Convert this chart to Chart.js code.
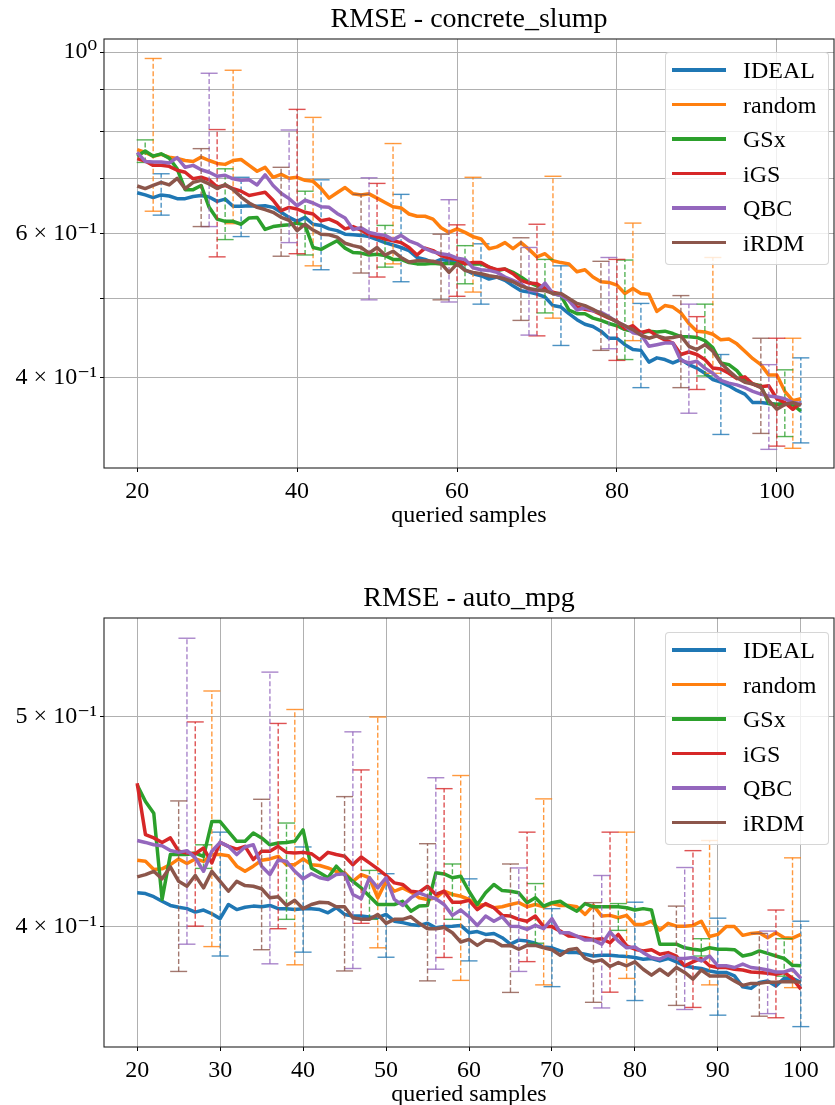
<!DOCTYPE html>
<html>
<head>
<meta charset="utf-8">
<title>RMSE curves</title>
<script src="https://cdn.jsdelivr.net/npm/chart.js@4.4.1/dist/chart.umd.min.js"></script>
<style>
  html, body { margin: 0; padding: 0; background: #fff; overflow: hidden; }
  .panel { position: absolute; left: 0; width: 835px; height: 530px; }
  .legend {
    position: absolute; left: 665px; width: 164px; height: 213px; box-sizing: border-box;
    background: rgba(255, 255, 255, 0.8); border: 1px solid rgba(204, 204, 204, 0.8); border-radius: 4px;
  }
  .legend .row { position: absolute; left: 0; right: 0; height: 30px; }
  .legend .swatch { position: absolute; left: 6px; top: 13px; width: 54px; height: 3.5px; }
  .legend .label {
    position: absolute; left: 77px; top: 0; line-height: 30px; white-space: nowrap;
    font-family: 'Liberation Serif', 'DejaVu Serif', serif; font-size: 24px; color: #000;
  }
</style>
</head>
<body>
<div class="panel" style="top:0px">
  <canvas id="chart-slump" width="835" height="530"></canvas>
  <div class="legend" id="legend-slump" style="top:52px"></div>
</div>
<div class="panel" style="top:579px">
  <canvas id="chart-mpg" width="835" height="530"></canvas>
  <div class="legend" id="legend-mpg" style="top:53px"></div>
</div>
<script>
// series shared by both panels
const seriesNames = ['IDEAL', 'random', 'GSx', 'iGS', 'QBC', 'iRDM'];
const seriesColors = ['#1f77b4', '#ff7f0e', '#2ca02c', '#d62728', '#9467bd', '#8c564b'];
const errorColors = ['rgba(31,119,180,0.8)', 'rgba(255,127,14,0.8)', 'rgba(44,160,44,0.8)',
  'rgba(214,39,40,0.8)', 'rgba(148,103,189,0.8)', 'rgba(140,86,75,0.8)'];

// ---- concrete_slump ----
const slumpSamples = [20, 21, 22, 23, 24, 25, 26, 27, 28, 29, 30, 31, 32, 33, 34, 35, 36, 37, 38, 39,
  40, 41, 42, 43, 44, 45, 46, 47, 48, 49, 50, 51, 52, 53, 54, 55, 56, 57, 58, 59,
  60, 61, 62, 63, 64, 65, 66, 67, 68, 69, 70, 71, 72, 73, 74, 75, 76, 77, 78, 79,
  80, 81, 82, 83, 84, 85, 86, 87, 88, 89, 90, 91, 92, 93, 94, 95, 96, 97, 98, 99,
  100, 101, 102, 103];
const slumpIdeal = [0.673, 0.669, 0.664, 0.669, 0.667, 0.662, 0.662, 0.666, 0.668, 0.665,
  0.657, 0.661, 0.648, 0.648, 0.649, 0.648, 0.649, 0.646, 0.637, 0.628,
  0.621, 0.628, 0.616, 0.614, 0.608, 0.605, 0.599, 0.598, 0.597, 0.595,
  0.590, 0.585, 0.581, 0.577, 0.572, 0.561, 0.558, 0.553, 0.558, 0.556,
  0.553, 0.542, 0.536, 0.533, 0.528, 0.531, 0.526, 0.518, 0.511, 0.509,
  0.506, 0.502, 0.490, 0.488, 0.479, 0.471, 0.465, 0.462, 0.456, 0.447,
  0.447, 0.439, 0.433, 0.432, 0.418, 0.423, 0.421, 0.417, 0.421, 0.415,
  0.411, 0.405, 0.398, 0.395, 0.391, 0.386, 0.382, 0.373, 0.373, 0.372,
  0.371, 0.372, 0.370, 0.372];
const slumpRandom = [0.760, 0.754, 0.746, 0.750, 0.744, 0.741, 0.737, 0.735, 0.744, 0.737,
  0.731, 0.729, 0.737, 0.739, 0.727, 0.715, 0.723, 0.703, 0.709, 0.701,
  0.703, 0.697, 0.695, 0.681, 0.663, 0.673, 0.683, 0.671, 0.669, 0.671,
  0.663, 0.655, 0.647, 0.645, 0.634, 0.630, 0.630, 0.625, 0.610, 0.602,
  0.608, 0.602, 0.595, 0.591, 0.575, 0.578, 0.585, 0.575, 0.585, 0.574,
  0.562, 0.567, 0.556, 0.553, 0.551, 0.539, 0.542, 0.531, 0.524, 0.523,
  0.519, 0.507, 0.514, 0.507, 0.506, 0.482, 0.490, 0.488, 0.480, 0.466,
  0.456, 0.455, 0.452, 0.445, 0.446, 0.440, 0.431, 0.422, 0.415, 0.403,
  0.403, 0.385, 0.375, 0.377];
const slumpGSx = [0.746, 0.757, 0.746, 0.751, 0.742, 0.720, 0.679, 0.679, 0.687, 0.646,
  0.625, 0.621, 0.621, 0.616, 0.627, 0.628, 0.607, 0.612, 0.614, 0.615,
  0.618, 0.614, 0.577, 0.574, 0.581, 0.588, 0.576, 0.569, 0.568, 0.565,
  0.566, 0.564, 0.558, 0.558, 0.553, 0.551, 0.551, 0.552, 0.551, 0.552,
  0.551, 0.552, 0.551, 0.551, 0.546, 0.541, 0.543, 0.538, 0.531, 0.523,
  0.518, 0.514, 0.507, 0.504, 0.484, 0.479, 0.479, 0.473, 0.470, 0.466,
  0.463, 0.458, 0.456, 0.454, 0.456, 0.455, 0.456, 0.453, 0.449, 0.449,
  0.448, 0.444, 0.435, 0.417, 0.415, 0.408, 0.397, 0.393, 0.391, 0.372,
  0.371, 0.372, 0.371, 0.364];
const slumpIGS = [0.741, 0.736, 0.727, 0.727, 0.725, 0.717, 0.713, 0.700, 0.703, 0.698,
  0.684, 0.687, 0.681, 0.676, 0.668, 0.671, 0.674, 0.659, 0.640, 0.646,
  0.643, 0.637, 0.634, 0.622, 0.625, 0.619, 0.608, 0.612, 0.606, 0.598,
  0.595, 0.591, 0.588, 0.585, 0.577, 0.565, 0.576, 0.572, 0.564, 0.560,
  0.558, 0.551, 0.553, 0.553, 0.546, 0.542, 0.543, 0.536, 0.526, 0.522,
  0.521, 0.514, 0.509, 0.506, 0.498, 0.488, 0.485, 0.483, 0.478, 0.473,
  0.469, 0.459, 0.463, 0.454, 0.457, 0.450, 0.445, 0.441, 0.427, 0.430,
  0.427, 0.421, 0.411, 0.410, 0.405, 0.399, 0.401, 0.393, 0.390, 0.391,
  0.377, 0.373, 0.366, 0.373];
const slumpQBC = [0.754, 0.735, 0.734, 0.734, 0.732, 0.743, 0.723, 0.727, 0.718, 0.713,
  0.705, 0.707, 0.700, 0.697, 0.698, 0.688, 0.708, 0.687, 0.672, 0.662,
  0.649, 0.659, 0.654, 0.647, 0.646, 0.635, 0.627, 0.607, 0.610, 0.602,
  0.599, 0.597, 0.590, 0.597, 0.588, 0.583, 0.575, 0.570, 0.567, 0.565,
  0.560, 0.558, 0.545, 0.542, 0.541, 0.538, 0.531, 0.526, 0.521, 0.512,
  0.510, 0.522, 0.507, 0.504, 0.497, 0.484, 0.487, 0.483, 0.481, 0.475,
  0.468, 0.463, 0.454, 0.452, 0.437, 0.439, 0.441, 0.441, 0.420, 0.417,
  0.419, 0.411, 0.405, 0.397, 0.394, 0.392, 0.389, 0.385, 0.382, 0.380,
  0.379, 0.377, 0.373, 0.372];
const slumpIRDM = [0.686, 0.681, 0.687, 0.693, 0.688, 0.701, 0.681, 0.693, 0.697, 0.690,
  0.681, 0.689, 0.679, 0.665, 0.654, 0.646, 0.642, 0.637, 0.628, 0.623,
  0.605, 0.616, 0.606, 0.599, 0.598, 0.594, 0.584, 0.580, 0.577, 0.568,
  0.577, 0.565, 0.571, 0.561, 0.554, 0.556, 0.556, 0.555, 0.552, 0.538,
  0.551, 0.541, 0.538, 0.536, 0.533, 0.531, 0.528, 0.524, 0.518, 0.514,
  0.512, 0.511, 0.507, 0.507, 0.500, 0.493, 0.490, 0.485, 0.479, 0.474,
  0.468, 0.463, 0.458, 0.451, 0.447, 0.450, 0.447, 0.448, 0.450, 0.437,
  0.433, 0.439, 0.431, 0.417, 0.408, 0.400, 0.395, 0.393, 0.389, 0.375,
  0.366, 0.371, 0.373, 0.370];
// error bars: sample positions, lower and upper ends, one list per series
const slumpErrAt = [
  [23, 33, 43, 53, 63, 73, 83, 93, 103],
  [22, 32, 42, 52, 62, 72, 82, 92, 102],
  [21, 31, 41, 51, 61, 71, 81, 91, 101],
  [30, 40, 50, 60, 70, 80, 90, 100],
  [29, 39, 49, 59, 69, 79, 89, 99],
  [28, 38, 48, 58, 68, 78, 88, 98]
];
const slumpErrLow = [
  [0.632, 0.595, 0.542, 0.524, 0.492, 0.438, 0.389, 0.341, 0.333],
  [0.639, 0.617, 0.548, 0.551, 0.509, 0.473, 0.444, 0.405, 0.328],
  [0.733, 0.590, 0.565, 0.546, 0.521, 0.480, 0.421, 0.402, 0.339],
  [0.562, 0.567, 0.531, 0.503, 0.450, 0.420, 0.387, 0.330],
  [0.612, 0.585, 0.498, 0.495, 0.451, 0.434, 0.362, 0.327],
  [0.612, 0.563, 0.537, 0.498, 0.470, 0.432, 0.389, 0.342]
];
const slumpErrHigh = [
  [0.710, 0.703, 0.698, 0.670, 0.583, 0.548, 0.493, 0.427, 0.423],
  [0.982, 0.950, 0.832, 0.773, 0.703, 0.705, 0.618, 0.561, 0.447],
  [0.781, 0.720, 0.676, 0.614, 0.580, 0.558, 0.557, 0.492, 0.409],
  [0.804, 0.851, 0.691, 0.615, 0.616, 0.558, 0.475, 0.447],
  [0.942, 0.803, 0.702, 0.660, 0.577, 0.561, 0.492, 0.415],
  [0.762, 0.723, 0.670, 0.599, 0.593, 0.555, 0.504, 0.447]
];
const slumpXTicks = [20, 40, 60, 80, 100];
const slumpYTicks = [0.4, 0.5, 0.6, 0.7, 0.8, 0.9, 1.0];
const slumpYLabels = ['4 × 10⁻¹', '', '6 × 10⁻¹', '', '', '', '10⁰'];

// ---- auto_mpg ----
const mpgSamples = [20, 21, 22, 23, 24, 25, 26, 27, 28, 29, 30, 31, 32, 33, 34, 35, 36, 37, 38, 39,
  40, 41, 42, 43, 44, 45, 46, 47, 48, 49, 50, 51, 52, 53, 54, 55, 56, 57, 58, 59,
  60, 61, 62, 63, 64, 65, 66, 67, 68, 69, 70, 71, 72, 73, 74, 75, 76, 77, 78, 79,
  80, 81, 82, 83, 84, 85, 86, 87, 88, 89, 90, 91, 92, 93, 94, 95, 96, 97, 98, 99,
  100];
const mpgIdeal = [0.4145, 0.4142, 0.4128, 0.4108, 0.4090, 0.4082, 0.4076, 0.4061, 0.4070, 0.4054,
  0.4033, 0.4094, 0.4072, 0.4082, 0.4087, 0.4084, 0.4090, 0.4076, 0.4076, 0.4072,
  0.4076, 0.4076, 0.4072, 0.4058, 0.4080, 0.4051, 0.4044, 0.4044, 0.4040, 0.4037,
  0.4051, 0.4022, 0.4016, 0.4008, 0.4004, 0.4013, 0.3994, 0.3999, 0.4001, 0.4004,
  0.3973, 0.3978, 0.3966, 0.3970, 0.3952, 0.3925, 0.3942, 0.3938, 0.3929, 0.3913,
  0.3910, 0.3897, 0.3890, 0.3890, 0.3883, 0.3876, 0.3879, 0.3879, 0.3876, 0.3874,
  0.3870, 0.3863, 0.3866, 0.3856, 0.3866, 0.3852, 0.3836, 0.3829, 0.3825, 0.3815,
  0.3809, 0.3809, 0.3795, 0.3751, 0.3745, 0.3769, 0.3775, 0.3755, 0.3785, 0.3785,
  0.3769];
const mpgRandom = [0.4291, 0.4286, 0.4249, 0.4252, 0.4271, 0.4297, 0.4276, 0.4297, 0.4286, 0.4317,
  0.4317, 0.4312, 0.4264, 0.4241, 0.4264, 0.4291, 0.4297, 0.4309, 0.4271, 0.4271,
  0.4297, 0.4271, 0.4267, 0.4256, 0.4241, 0.4234, 0.4196, 0.4226, 0.4212, 0.4123,
  0.4196, 0.4152, 0.4167, 0.4148, 0.4123, 0.4116, 0.4123, 0.4152, 0.4138, 0.4130,
  0.4116, 0.4090, 0.4094, 0.4080, 0.4084, 0.4094, 0.4102, 0.4084, 0.4094, 0.4084,
  0.4098, 0.4090, 0.4090, 0.4084, 0.4051, 0.4090, 0.4044, 0.4047, 0.4037, 0.4047,
  0.4008, 0.4008, 0.4022, 0.3984, 0.4013, 0.4001, 0.4001, 0.4004, 0.4022, 0.3957,
  0.3966, 0.3999, 0.3999, 0.3962, 0.3970, 0.3973, 0.3952, 0.3973, 0.3952, 0.3950,
  0.3966];
const mpgGSx = [0.4648, 0.4567, 0.4511, 0.4116, 0.4317, 0.4317, 0.4317, 0.4324, 0.4309, 0.4471,
  0.4471, 0.4424, 0.4378, 0.4378, 0.4417, 0.4394, 0.4362, 0.4370, 0.4373, 0.4378,
  0.4432, 0.4256, 0.4234, 0.4212, 0.4264, 0.4226, 0.4196, 0.4167, 0.4130, 0.4094,
  0.4094, 0.4094, 0.4108, 0.4065, 0.4087, 0.4090, 0.4234, 0.4229, 0.4212, 0.4219,
  0.4152, 0.4094, 0.4145, 0.4182, 0.4155, 0.4152, 0.4145, 0.4102, 0.4123, 0.4087,
  0.4102, 0.4108, 0.4084, 0.4065, 0.4098, 0.4084, 0.4084, 0.4084, 0.4084, 0.4080,
  0.4070, 0.4076, 0.4070, 0.3925, 0.3925, 0.3925, 0.3910, 0.3904, 0.3900, 0.3910,
  0.3904, 0.3904, 0.3902, 0.3876, 0.3883, 0.3897, 0.3887, 0.3876, 0.3866, 0.3838,
  0.3836];
const mpgIGS = [0.4657, 0.4409, 0.4394, 0.4373, 0.4394, 0.4332, 0.4324, 0.4321, 0.4347, 0.4279,
  0.4373, 0.4355, 0.4342, 0.4355, 0.4294, 0.4332, 0.4332, 0.4355, 0.4327, 0.4324,
  0.4327, 0.4321, 0.4294, 0.4327, 0.4317, 0.4309, 0.4271, 0.4306, 0.4279, 0.4252,
  0.4222, 0.4189, 0.4182, 0.4152, 0.4148, 0.4174, 0.4138, 0.4152, 0.4104, 0.4104,
  0.4112, 0.4072, 0.4098, 0.4080, 0.4047, 0.4044, 0.4030, 0.4022, 0.4044, 0.3999,
  0.3999, 0.3980, 0.3959, 0.3957, 0.3952, 0.3945, 0.3948, 0.3931, 0.3966, 0.3918,
  0.3904, 0.3897, 0.3902, 0.3883, 0.3890, 0.3876, 0.3836, 0.3852, 0.3866, 0.3836,
  0.3829, 0.3829, 0.3822, 0.3819, 0.3811, 0.3809, 0.3806, 0.3802, 0.3809, 0.3785,
  0.3742];
const mpgQBC = [0.4382, 0.4373, 0.4362, 0.4358, 0.4336, 0.4327, 0.4335, 0.4302, 0.4241, 0.4332,
  0.4373, 0.4355, 0.4317, 0.4352, 0.4362, 0.4264, 0.4226, 0.4291, 0.4286, 0.4241,
  0.4207, 0.4230, 0.4212, 0.4204, 0.4226, 0.4230, 0.4138, 0.4119, 0.4212, 0.4167,
  0.4212, 0.4116, 0.4090, 0.4123, 0.4145, 0.4130, 0.4119, 0.4094, 0.4047, 0.4070,
  0.4041, 0.4004, 0.4044, 0.4022, 0.4041, 0.4001, 0.3999, 0.3987, 0.4004, 0.3990,
  0.4033, 0.3973, 0.3973, 0.3959, 0.3942, 0.3942, 0.3925, 0.3976, 0.3938, 0.3910,
  0.3913, 0.3890, 0.3870, 0.3863, 0.3879, 0.3866, 0.3866, 0.3870, 0.3856, 0.3876,
  0.3836, 0.3836, 0.3829, 0.3843, 0.3829, 0.3825, 0.3819, 0.3811, 0.3811, 0.3822,
  0.3785];
const mpgIRDM = [0.4216, 0.4226, 0.4241, 0.4207, 0.4261, 0.4196, 0.4174, 0.4222, 0.4167, 0.4241,
  0.4196, 0.4152, 0.4196, 0.4177, 0.4174, 0.4163, 0.4123, 0.4128, 0.4090, 0.4112,
  0.4076, 0.4094, 0.4104, 0.4102, 0.4084, 0.4084, 0.4037, 0.4030, 0.4030, 0.4051,
  0.4013, 0.4030, 0.4030, 0.4041, 0.4013, 0.3990, 0.3990, 0.3995, 0.3973, 0.3934,
  0.3945, 0.3920, 0.3942, 0.3938, 0.3918, 0.3920, 0.3904, 0.3920, 0.3920, 0.3910,
  0.3902, 0.3879, 0.3902, 0.3907, 0.3866, 0.3852, 0.3860, 0.3833, 0.3849, 0.3836,
  0.3852, 0.3822, 0.3798, 0.3822, 0.3798, 0.3829, 0.3809, 0.3782, 0.3819, 0.3795,
  0.3795, 0.3795, 0.3775, 0.3757, 0.3765, 0.3765, 0.3770, 0.3770, 0.3772, 0.3772,
  0.3770];
const mpgErrAt = [
  [30, 40, 50, 60, 70, 80, 90, 100],
  [29, 39, 49, 59, 69, 79, 89, 99],
  [28, 38, 48, 58, 68, 78, 88, 98],
  [27, 37, 47, 57, 67, 77, 87, 97],
  [26, 36, 46, 56, 66, 76, 86, 96],
  [25, 35, 45, 55, 65, 75, 85, 95]
];
const mpgErrLow = [
  [0.3876, 0.3892, 0.3871, 0.3856, 0.3752, 0.3697, 0.3640, 0.3596],
  [0.3915, 0.3840, 0.3910, 0.3777, 0.3759, 0.3785, 0.3759, 0.3748],
  [0.4254, 0.4030, 0.4030, 0.4030, 0.3929, 0.3983, 0.3876, 0.3794],
  [0.4001, 0.3990, 0.4013, 0.3870, 0.3853, 0.3730, 0.3670, 0.3630],
  [0.3925, 0.3844, 0.3825, 0.3822, 0.3813, 0.3668, 0.3662, 0.3646],
  [0.3813, 0.3902, 0.3815, 0.3775, 0.3729, 0.3690, 0.3678, 0.3636]
];
const mpgErrHigh = [
  [0.4421, 0.4352, 0.4230, 0.4207, 0.4076, 0.4104, 0.4035, 0.4022],
  [0.5136, 0.5036, 0.4996, 0.4695, 0.4580, 0.4421, 0.4382, 0.4302],
  [0.4362, 0.4464, 0.4245, 0.4274, 0.4186, 0.4098, 0.3948, 0.3948],
  [0.4970, 0.4962, 0.4723, 0.4630, 0.4421, 0.4421, 0.4335, 0.4070],
  [0.5432, 0.5240, 0.4918, 0.4684, 0.4256, 0.4222, 0.4258, 0.3980],
  [0.4570, 0.4578, 0.4591, 0.4367, 0.4274, 0.4102, 0.4087, 0.3970]
];
const mpgXTicks = [20, 30, 40, 50, 60, 70, 80, 90, 100];
const mpgYTicks = [0.4, 0.5];
const mpgYLabels = ['4 × 10⁻¹', '5 × 10⁻¹'];

const fontFamily = "'Liberation Serif', 'DejaVu Serif', serif";
const gridColor = '#b0b0b0';

Chart.defaults.font.family = fontFamily;
Chart.defaults.color = '#000';

// axes box drawn on all four sides, like matplotlib spines
const frame = {
  id: 'frame',
  afterDraw(chart) {
    const { ctx, chartArea: a } = chart;
    ctx.save();
    ctx.strokeStyle = '#222';
    ctx.lineWidth = 1.1;
    ctx.strokeRect(a.left, a.top, a.right - a.left, a.bottom - a.top);
    ctx.restore();
  }
};

function errorBarPoints(at, low, high) {
  const pts = [];
  at.forEach((x, k) => {
    pts.push({ x: x, y: low[k] }, { x: x, y: high[k] }, { x: x, y: null });
  });
  return pts;
}

function buildLegend(id) {
  const box = document.getElementById(id);
  seriesNames.forEach((name, i) => {
    const row = document.createElement('div');
    row.className = 'row';
    row.style.top = (2.3 + i * 34.45) + 'px';
    const swatch = document.createElement('div');
    swatch.className = 'swatch';
    swatch.style.background = seriesColors[i];
    const label = document.createElement('div');
    label.className = 'label';
    label.textContent = name;
    row.appendChild(swatch);
    row.appendChild(label);
    box.appendChild(row);
  });
}

function createPanel(canvasId, p) {
  const datasets = [];
  p.series.forEach((values, i) => {
    datasets.push({
      label: seriesNames[i],
      data: values.map((v, k) => ({ x: p.samples[k], y: v })),
      xAxisID: 'x',
      yAxisID: 'y',
      borderColor: seriesColors[i],
      borderWidth: 3.5,
      pointRadius: 0,
      tension: 0,
      borderJoinStyle: 'round',
      order: (5 - i) * 2 + 1
    });
    datasets.push({
      label: seriesNames[i] + ' error',
      data: errorBarPoints(p.errAt[i], p.errLow[i], p.errHigh[i]),
      xAxisID: 'x',
      yAxisID: 'y',
      borderColor: errorColors[i],
      borderWidth: 1.4,
      borderDash: [5, 2.5],
      spanGaps: false,
      pointStyle: 'line',
      pointRadius: 8.5,
      pointBorderWidth: 1.4,
      pointBorderColor: errorColors[i],
      tension: 0,
      order: (5 - i) * 2
    });
  });

  return new Chart(document.getElementById(canvasId), {
    type: 'line',
    data: { datasets: datasets },
    plugins: [frame],
    options: {
      responsive: false,
      animation: false,
      events: [],
      layout: { autoPadding: false, padding: { left: 0, right: 1, top: 0, bottom: 0 } },
      scales: {
        x: {
          type: 'linear',
          bounds: 'data',
          min: p.xMin,
          max: p.xMax,
          afterBuildTicks: s => { s.ticks = p.xTicks.map(v => ({ value: v })); },
          afterFit: s => { s.height = 62; },
          border: { display: false },
          grid: { color: gridColor, lineWidth: 1, tickLength: 4, tickColor: '#000', tickWidth: 1 },
          ticks: { color: '#000', font: { size: 24 }, padding: 5, maxRotation: 0, autoSkip: false },
          title: {
            display: true, text: 'queried samples', color: '#000',
            font: { size: 24 }, padding: { top: 0, bottom: 0 }
          }
        },
        // top axis only carries the panel title, centred over the plot area
        top: {
          type: 'linear',
          position: 'top',
          afterFit: s => { s.height = 39; },
          border: { display: false },
          grid: { display: false, drawTicks: false },
          ticks: { display: false },
          title: {
            display: true, text: p.title, color: '#000',
            font: { size: 28, weight: 'normal' }, padding: { top: 3, bottom: 0 }
          }
        },
        y: {
          type: 'logarithmic',
          bounds: 'data',
          min: p.yMin,
          max: p.yMax,
          afterBuildTicks: s => { s.ticks = p.yTicks.map(v => ({ value: v })); },
          afterFit: s => { s.width = 104; },
          border: { display: false },
          grid: { color: gridColor, lineWidth: 1, tickLength: 4, tickColor: '#000', tickWidth: 1 },
          ticks: {
            color: '#000', font: { size: 24 }, padding: 3, autoSkip: false,
            callback: (value, index) => p.yLabels[index]
          }
        }
      },
      plugins: {
        legend: { display: false },
        tooltip: { enabled: false },
        title: { display: false }
      }
    }
  });
}

createPanel('chart-slump', {
  title: 'RMSE - concrete_slump',
  samples: slumpSamples,
  series: [slumpIdeal, slumpRandom, slumpGSx, slumpIGS, slumpQBC, slumpIRDM],
  errAt: slumpErrAt, errLow: slumpErrLow, errHigh: slumpErrHigh,
  xMin: 15.85, xMax: 107.15, xTicks: slumpXTicks,
  yMin: 0.3103, yMax: 1.0373, yTicks: slumpYTicks, yLabels: slumpYLabels
});

createPanel('chart-mpg', {
  title: 'RMSE - auto_mpg',
  samples: mpgSamples,
  series: [mpgIdeal, mpgRandom, mpgGSx, mpgIGS, mpgQBC, mpgIRDM],
  errAt: mpgErrAt, errLow: mpgErrLow, errHigh: mpgErrHigh,
  xMin: 16, xMax: 104, xTicks: mpgXTicks,
  yMin: 0.3519, yMax: 0.555, yTicks: mpgYTicks, yLabels: mpgYLabels
});

buildLegend('legend-slump');
buildLegend('legend-mpg');
</script>
</body>
</html>
